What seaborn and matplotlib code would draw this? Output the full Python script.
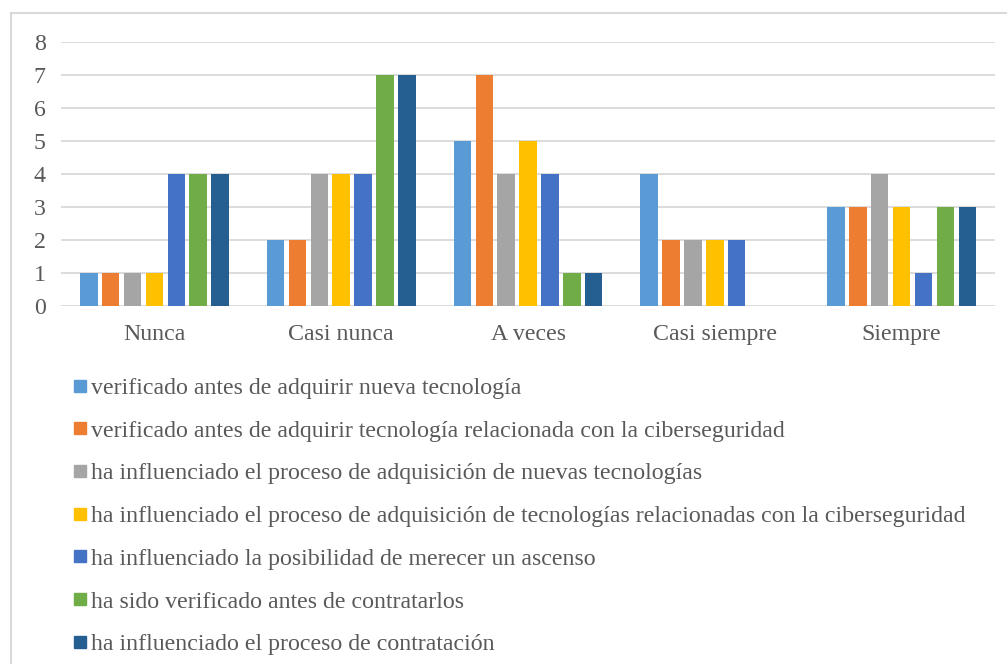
import matplotlib
matplotlib.use("Agg")
import matplotlib.pyplot as plt
from matplotlib.lines import Line2D
import seaborn as sb
import pandas as pd

categories = ["Nunca", "Casi nunca", "A veces", "Casi siempre", "Siempre"]
series = [
    "verificado antes de adquirir nueva tecnología",
    "verificado antes de adquirir tecnología relacionada con la ciberseguridad",
    "ha influenciado el proceso de adquisición de nuevas tecnologías",
    "ha influenciado el proceso de adquisición de tecnologías relacionadas con la ciberseguridad",
    "ha influenciado la posibilidad de merecer un ascenso",
    "ha sido verificado antes de contratarlos",
    "ha influenciado el proceso de contratación",
]
values = [
    [1, 2, 5, 4, 3],
    [1, 2, 7, 2, 3],
    [1, 4, 4, 2, 4],
    [1, 4, 5, 2, 3],
    [4, 4, 4, 2, 1],
    [4, 7, 1, 0, 3],
    [4, 7, 1, 0, 3],
]
colors = ["#5B9BD5", "#ED7D31", "#A5A5A5", "#FFC000", "#4472C4", "#70AD47", "#255E91"]

rows = []
for s, vals in zip(series, values):
    for c, v in zip(categories, vals):
        rows.append({"Categoria": c, "Serie": s, "Valor": v})
data = pd.DataFrame(rows)

plt.rcParams["font.family"] = ["Liberation Serif", "DejaVu Serif"]
text_color = "#595959"
fs = 17.2

fig = plt.figure(figsize=(10.07, 6.64), dpi=100)
ax = fig.add_axes([0.0606, 0.539, 0.9275, 0.3977])

sb.barplot(data=data, x="Categoria", y="Valor", hue="Serie", order=categories,
           hue_order=series, palette=colors, width=0.82, gap=0.2, saturation=1,
           ax=ax, legend=False)

ax.set_ylim(0, 8)
ax.set_xlim(-0.5, 4.5)
ax.set_yticks(range(0, 9))
ax.set_xlabel("")
ax.set_ylabel("")
ax.grid(axis="y", color="#D9D9D9", linewidth=1.3)
ax.set_axisbelow(True)
for sp in ax.spines.values():
    sp.set_visible(False)
ax.tick_params(axis="y", length=0, pad=11, labelsize=fs, labelcolor=text_color)
ax.tick_params(axis="x", length=0, pad=13, labelsize=fs, labelcolor=text_color)

handles = [Line2D([], [], marker="s", linestyle="none", markersize=9,
                  markerfacecolor=c, markeredgecolor=c) for c in colors]
fig.legend(handles, series, loc="upper left", bbox_to_anchor=(0.073, 0.432),
           frameon=False, fontsize=fs, labelcolor=text_color,
           handlelength=0.55, handletextpad=0.2, labelspacing=0.88,
           borderaxespad=0, borderpad=0)

# chart border (as in the original figure)
fig.add_artist(Line2D([11 / 1007, 11 / 1007], [0, 1 - 13 / 664], color="#D9D9D9",
                      linewidth=1.5, transform=fig.transFigure))
fig.add_artist(Line2D([11 / 1007, 1], [1 - 13 / 664, 1 - 13 / 664], color="#D9D9D9",
                      linewidth=1.5, transform=fig.transFigure))

fig.savefig("out.png", dpi=100)
